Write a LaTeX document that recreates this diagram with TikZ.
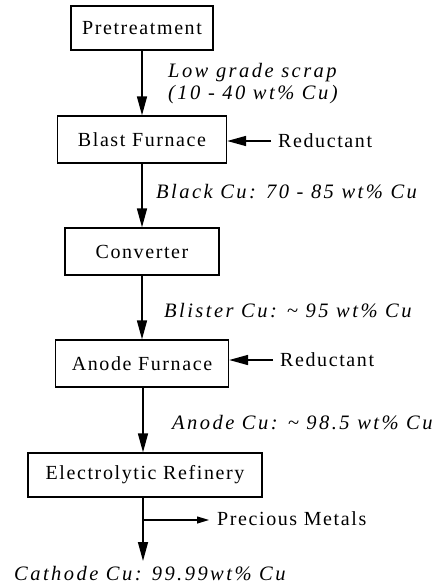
\documentclass[tikz,border=0pt]{standalone}
\usepackage{fontspec}
\setmainfont{Liberation Serif}[LetterSpace=8]
\newfontfamily\labelfont{Liberation Serif}[LetterSpace=12]
\usetikzlibrary{arrows.meta}
\tikzset{
  box/.style={draw, line width=1.3pt, inner sep=0pt, font=\fontsize{20}{24}\selectfont},
  arr/.style={line width=1.6pt, -{Triangle[length=19pt,width=10pt]}},
  sarr/.style={line width=1.1pt, -{Triangle[length=12pt,width=7pt]}},
  lbl/.style={anchor=west, inner sep=0pt, font=\labelfont\fontsize{20.5}{22}\selectfont\itshape, align=left},
  side/.style={anchor=west, inner sep=0pt, font=\fontsize{20}{24}\selectfont}
}
\begin{document}
\begin{tikzpicture}[x=1pt,y=-1pt]
\useasboundingbox (0,0) rectangle (437,587);
\node[box, minimum width=142pt, minimum height=44pt] (pre) at (142,28) {Pretreatment};
\node[box, minimum width=169pt, minimum height=47pt] (bf) at (142,139.5) {Blast Furnace};
\node[box, minimum width=154pt, minimum height=47pt] (conv) at (142,251.5) {Converter};
\node[box, minimum width=173pt, minimum height=47pt] (af) at (142,363.5) {Anode Furnace};
\node[box, minimum width=234pt, minimum height=44pt] (er) at (145,475) {Electrolytic Refinery};

\node[lbl] (l1) at (168,84) {Low grade scrap\\(10 - 40 wt\% Cu)};
\node[lbl] (l2) at (156,192) {Black Cu: 70 - 85 wt\% Cu};
\node[lbl] (l3) at (164,311) {Blister Cu: \char`~\ 95 wt\% Cu};
\node[lbl] (l4) at (172,423) {Anode Cu: \char`~\ 98.5 wt\% Cu};
\node[lbl] (l5) at (14,574) {Cathode Cu: 99.99wt\% Cu};

\node[side] (r1) at (278,141) {Reductant};
\node[side] (r2) at (280,360) {Reductant};
\node[side, inner xsep=8pt] (pm) at (209,519) {Precious Metals};

\draw[arr] (pre.south -| 142,0) -- (bf.north -| 142,0);
\draw[arr] (bf.south -| 142,0) -- (conv.north -| 142,0);
\draw[arr] (conv.south -| 142,0) -- (af.north -| 142,0);
\draw[arr] (af.south -| 143,0) -- (er.north -| 143,0);
\coordinate (ce) at (143,561);
\draw[arr] (er.south -| 143,0) -- (ce);
\coordinate (pms) at (143.5,520);
\draw[sarr] (pms) -- (pm.west |- pms);
\draw[arr] (r1.west) ++(-7,0) coordinate (r1s) -- (r1s -| bf.east);
\draw[arr] (r2.west) ++(-7,0) coordinate (r2s) -- (r2s -| af.east);
\end{tikzpicture}
\end{document}
